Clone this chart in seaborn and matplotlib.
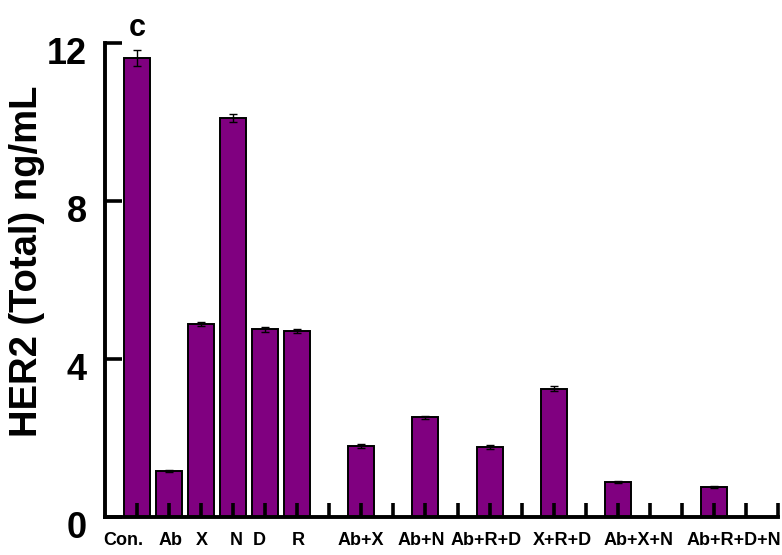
import matplotlib
matplotlib.use("Agg")
import matplotlib.pyplot as plt
import matplotlib.transforms as mtransforms
import seaborn as sns
import pandas as pd
import numpy as np

# Treatment groups, mean HER2 level and error
groups = ["Con.", "Ab", "X", "N", "D", "R", "Ab+X", "Ab+N", "Ab+R+D",
          "X+R+D", "Ab+X+N", "Ab+R+D+N"]
her2 = [11.62, 1.17, 4.88, 10.10, 4.75, 4.72, 1.80, 2.52, 1.78, 3.25, 0.88, 0.76]
errs = [0.20, 0.02, 0.05, 0.10, 0.06, 0.05, 0.06, 0.03, 0.05, 0.06, 0.02, 0.02]
y_ticks = [0, 4, 8, 12]

# layout: slot of each bar on the x axis and where its name is written
slots = [0, 1, 2, 3, 4, 5, 7, 9, 11, 13, 15, 18]
label_pos = [-0.44, 1.06, 2.02, 3.1, 3.8, 5.03, 6.97, 8.86, 10.9, 13.28, 15.65, 18.62]

df = pd.DataFrame({"slot": slots, "HER2": her2, "group": groups})

sns.set_style("white")
plt.rcParams["font.family"] = ["Liberation Sans", "DejaVu Sans"]
plt.rcParams["font.weight"] = "bold"
for key in ["text.color", "axes.labelcolor", "xtick.color", "ytick.color"]:
    plt.rcParams[key] = "black"

fig = plt.figure(figsize=(7.82, 5.55), dpi=100)
ax = fig.add_axes([105 / 782, 1 - 517 / 555, (778 - 105) / 782, (517 - 43) / 555])
ax.set_axisbelow(False)

sns.barplot(data=df, x="slot", y="HER2", native_scale=True, width=0.81,
            color="#800080", saturation=1, edgecolor="black", linewidth=1.4,
            errorbar=None, ax=ax)
ax.errorbar(slots, her2, yerr=errs, fmt="none", ecolor="black",
            elinewidth=1.0, capsize=3.2, capthick=1.0, zorder=5)

ax.set_xlim(-1, 20)
ax.set_ylim(0, 12)

# every slot gets an inward tick; group names sit on minor ticks
ax.xaxis.remove_overlapping_locs = False
ax.set_xticks(np.arange(0, 21))
ax.set_xticklabels([])
ax.set_xticks(label_pos, minor=True)
ax.set_xticklabels(groups, minor=True, fontsize=13, fontweight="bold")
ax.tick_params(axis="x", which="major", direction="in", length=10, width=2.6,
               bottom=True)
ax.tick_params(axis="x", which="minor", length=0, pad=11)

ax.set_yticks(y_ticks)
ax.set_yticklabels([str(v) for v in y_ticks], fontsize=26, fontweight="bold")
ax.tick_params(axis="y", direction="in", length=12, width=2.6, left=True, pad=13)
shift = mtransforms.ScaledTranslation(0, -7 / 100, fig.dpi_scale_trans)
for lbl in ax.get_yticklabels():
    lbl.set_transform(lbl.get_transform() + shift)

for side in ["top", "right"]:
    ax.spines[side].set_visible(False)
for side in ["left", "bottom"]:
    ax.spines[side].set_linewidth(2.8)
    ax.spines[side].set_color("black")

ax.set_xlabel("")
ax.set_ylabel("HER2 (Total) ng/mL", fontsize=27.5, fontweight="bold")
ax.yaxis.set_label_coords(-0.089, 0.539)

ax.text(0, 12.18, "c", ha="center", va="baseline", fontsize=22,
        fontweight="bold", clip_on=False)

fig.savefig("out.png", dpi=100)
